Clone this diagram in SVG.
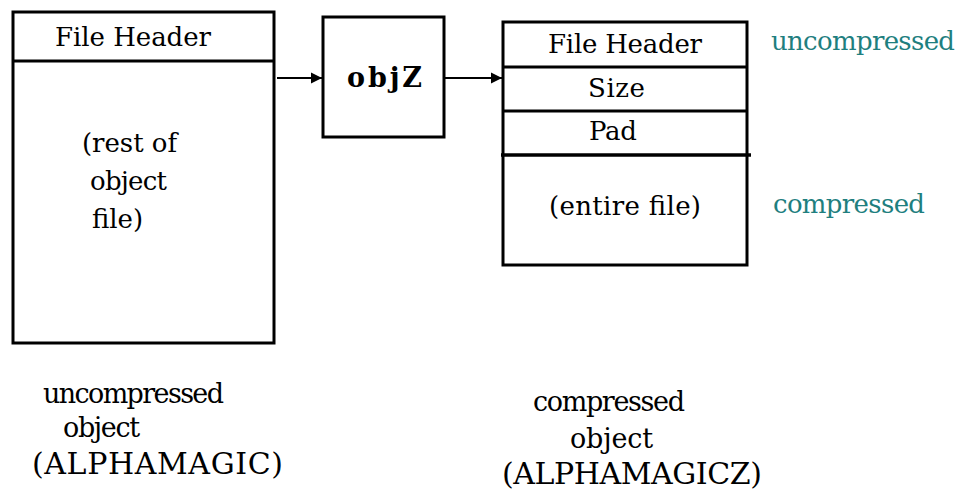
<svg xmlns="http://www.w3.org/2000/svg" width="959" height="492" viewBox="0 0 959 492">
<defs>
<style>
.box{fill:#fff;stroke:#000;stroke-width:3}
.ln{stroke:#000;stroke-width:3;fill:none}
.t{font-family:"DejaVu Serif","Liberation Serif",serif;font-size:26px;fill:#000}
.b{font-family:"DejaVu Serif","Liberation Serif",serif;font-size:27px;font-weight:bold;fill:#000}
.cap{font-size:27px}
.big{font-size:30px}
.teal{fill:#1f7f7f}
.con{stroke:#000;stroke-width:2;fill:none;marker-end:url(#ah)}
</style>
<marker id="ah" viewBox="0 0 10 10" refX="10" refY="5" markerWidth="11" markerHeight="12" markerUnits="userSpaceOnUse" orient="auto">
<path d="M0,0 L10,5 L0,10 Z" fill="#000"/>
</marker>
</defs>
<rect width="959" height="492" fill="#fff"/>
<g id="uncompressed-object">
<rect class="box" x="13" y="12" width="261" height="331"/>
<line class="ln" x1="13" y1="61" x2="274" y2="61"/>
<text class="t" x="55" y="46" textLength="156">File Header</text>
<text class="t" x="82" y="152" textLength="95">(rest of</text>
<text class="t" x="90" y="190" textLength="77">object</text>
<text class="t" x="92" y="228" textLength="51">file)</text>
</g>
<g id="objZ">
<rect class="box" x="323" y="17" width="121" height="120"/>
<text class="b" x="347" y="87" textLength="75">objZ</text>
</g>
<g id="compressed-object">
<rect class="box" x="503" y="22" width="244" height="243"/>
<line class="ln" x1="503" y1="67" x2="747" y2="67"/>
<line class="ln" x1="503" y1="111" x2="747" y2="111"/>
<line class="ln" x1="501" y1="155" x2="751" y2="155" style="stroke-width:3.5"/>
<text class="t" x="548" y="53" textLength="154">File Header</text>
<text class="t" x="588" y="97" textLength="57">Size</text>
<text class="t" x="589" y="140" textLength="48">Pad</text>
<text class="t" x="549" y="215" textLength="152">(entire file)</text>
</g>
<g id="side-labels">
<text class="t teal" x="771" y="50" textLength="184">uncompressed</text>
<text class="t teal" x="773" y="213" textLength="152">compressed</text>
</g>
<g id="caption-left">
<text class="t cap" x="43" y="403" textLength="181">uncompressed</text>
<text class="t cap" x="63" y="437" textLength="77">object</text>
<text class="t big" x="32" y="474" textLength="251">(ALPHAMAGIC)</text>
</g>
<g id="caption-right">
<text class="t cap" x="533" y="411" textLength="152">compressed</text>
<text class="t cap" x="570" y="448" textLength="83">object</text>
<text class="t big" x="502" y="484" textLength="260">(ALPHAMAGICZ)</text>
</g>
<g id="connectors">
<line class="con" x1="277" y1="78" x2="322" y2="78"/>
<line class="con" x1="444" y1="78" x2="502" y2="78"/>
</g>
</svg>
